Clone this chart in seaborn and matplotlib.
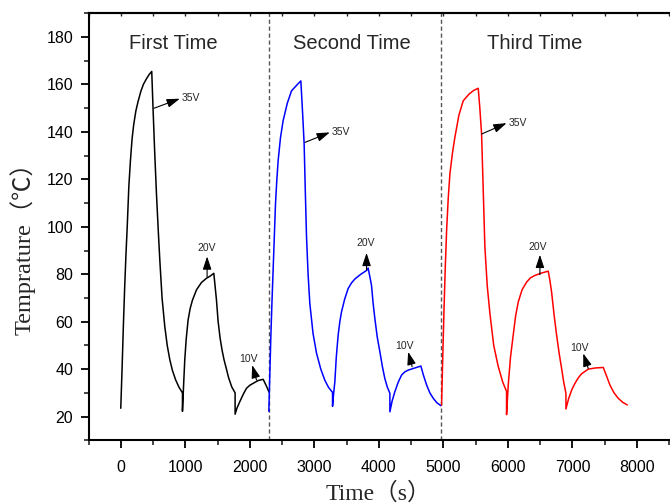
import numpy as np
import pandas as pd
import matplotlib
matplotlib.use("Agg")
import matplotlib.pyplot as plt
from matplotlib.ticker import MultipleLocator, FuncFormatter
import seaborn as sns

# Temperature vs. time for three repeated heating cycles (35 V, 20 V, 10 V each)
first_time = [0, 20, 40, 60, 80, 100, 125, 150, 175, 200, 235, 270, 310, 350, 400, 440, 480,
              500, 525, 553, 580, 605, 640, 682, 720, 760, 800, 850, 900, 956,
              956, 975, 992, 1015, 1044, 1075, 1110, 1173, 1250, 1328, 1390, 1442,
              1483, 1509, 1540, 1570, 1600, 1638, 1670, 1720, 1772,
              1772, 1800, 1845, 1900, 1948, 2000, 2051, 2130, 2207, 2255, 2300]
first_temp = [23.5, 40, 58, 74, 88, 100, 117, 128, 137, 143, 149, 153, 157, 160, 162.5, 164.2, 165.5,
              150, 132, 114, 99, 86, 70, 58, 50, 44, 39.5, 35.5, 32.5, 30,
              22.2, 34, 44, 53, 60.8, 65.5, 69, 73.4, 76.5, 78.3, 79.3, 80.4,
              69.2, 60, 53, 48, 44, 40, 36.5, 32.5, 30,
              21, 23.5, 26.3, 29.5, 31.9, 33.2, 34, 35.2, 35.7, 33, 30.2]

second_time = [2295, 2310, 2326, 2343, 2361, 2380, 2398, 2418, 2439, 2475, 2516, 2580, 2646, 2720, 2791,
               2820, 2842, 2860, 2879, 2903, 2930, 2980, 3034, 3100, 3163, 3220, 3282,
               3282, 3300, 3318, 3340, 3369, 3395, 3420, 3470, 3524, 3575, 3628, 3720, 3810, 3834,
               3860, 3886, 3910, 3938, 3975, 4016, 4055, 4093, 4130, 4171,
               4171, 4205, 4248, 4300, 4352, 4400, 4456, 4560, 4651,
               4690, 4740, 4790, 4843, 4900, 4961]
second_temp = [22.2, 38, 53.8, 68, 81.7, 96, 109.7, 119.5, 127.9, 137.5, 144.7, 152, 157.3, 159.5, 161.5,
               147, 134.9, 115, 95.7, 80, 67.7, 55, 46.7, 40, 35.3, 32.3, 30.2,
               24.3, 30, 34.7, 45, 54.3, 60, 64, 69.5, 74, 76.3, 78, 80, 81.6, 82.6,
               79, 75.3, 68, 61.3, 53.5, 47.3, 41, 36, 32.5, 29.8,
               22, 26.5, 30.5, 34.5, 37.5, 38.8, 39.6, 40.5, 41.3,
               37.5, 33.3, 30, 27.7, 25.8, 24.6]

third_time = [4972, 4990, 5008, 5028, 5050, 5075, 5101, 5140, 5178, 5240, 5307, 5400, 5470, 5540,
              5565, 5592, 5618, 5643, 5680, 5721, 5780, 5850, 5920, 5979,
              5979, 6005, 6040, 6082, 6120, 6160, 6220, 6290, 6350, 6419, 6520, 6625,
              6650, 6677, 6715, 6755, 6795, 6832, 6865, 6899,
              6899, 6940, 6990, 7039, 7090, 7140, 7245, 7360, 7478,
              7530, 7581, 7645, 7710, 7780, 7850]
third_temp = [24.9, 45, 63.6, 82, 98.5, 112, 122.3, 131, 137.7, 147, 153.1, 156, 157.5, 158.4,
              150, 139.1, 115, 91.5, 75, 63.5, 50, 41.1, 34.5, 30.6,
              20.8, 33.3, 45, 54.3, 62.5, 68.3, 73.5, 76.7, 78.5, 79.5, 80.5, 81.3,
              77.5, 72.5, 63, 54.3, 46.5, 40.3, 34.5, 29.8,
              23.2, 27.5, 31.3, 34, 36.3, 38, 40, 40.5, 40.7,
              37, 33.3, 30, 27.7, 26, 24.9]

run_names = ["First Time", "Second Time", "Third Time"]
run_colors = ["black", "#0000ff", "#ff0000"]
run_title_x = [815, 3589, 6419]
divider_x = [2295, 4970]

# Voltage labels: arrow tail (on curve), arrow head, label position
volt_text = ["35V", "20V", "10V", "35V", "20V", "10V", "35V", "20V", "10V"]
arrow_tail = [(517, 150), (1338, 78.8), (2104, 35.4),
              (2857, 135.6), (3809, 81.8), (4516, 41.0),
              (5592, 139.1), (6496, 79.8), (7245, 40.3)]
arrow_head = [(915, 154), (1338, 87.5), (2036, 41.7),
              (3240, 139.8), (3809, 89.0), (4454, 47.3),
              (5979, 143.7), (6496, 88.2), (7168, 46.6)]
label_pos = [(945, 154.5), (1333, 91.0), (1985, 44.4),
             (3270, 140.0), (3790, 93.2), (4397, 49.8),
             (6005, 143.6), (6465, 91.6), (7116, 48.8)]

df = pd.concat([
    pd.DataFrame({"time": first_time, "temp": first_temp, "run": run_names[0]}),
    pd.DataFrame({"time": second_time, "temp": second_temp, "run": run_names[1]}),
    pd.DataFrame({"time": third_time, "temp": third_temp, "run": run_names[2]}),
], ignore_index=True)

sns.set_style("ticks")
plt.rcParams["font.family"] = ["Liberation Sans", "DejaVu Sans"]

fig = plt.figure(figsize=(6.7, 5.04), dpi=100)
ax = fig.add_axes([0.1321, 0.1264, 0.886, 0.8472])

sns.lineplot(data=df, x="time", y="temp", hue="run", estimator=None, sort=False,
             palette=dict(zip(run_names, run_colors)), linewidth=1.1,
             legend=False, ax=ax)

for xv in divider_x:
    ax.axvline(xv, color="#555555", linestyle=(0, (3, 2)), linewidth=1.0, zorder=1)

for name, xv in zip(run_names, run_title_x):
    ax.text(xv, 177.2, name, ha="center", va="center", fontsize=14.5)

for txt, tail, head, pos in zip(volt_text, arrow_tail, arrow_head, label_pos):
    ax.annotate("", xy=head, xytext=tail,
                arrowprops=dict(arrowstyle="-|>,head_length=0.75,head_width=0.25",
                                mutation_scale=10.5, color="black", lw=0.8,
                                shrinkA=0, shrinkB=0))
    ha = "left" if txt == "35V" else "center"
    ax.text(pos[0], pos[1], txt, ha=ha, va="center", fontsize=7.5)

ax.set_xlim(-500, 8700)
ax.set_ylim(10, 190)
ax.xaxis.set_major_locator(MultipleLocator(1000))
ax.xaxis.set_minor_locator(MultipleLocator(500))
ax.yaxis.set_major_locator(MultipleLocator(20))
ax.yaxis.set_minor_locator(MultipleLocator(10))
ax.tick_params(axis="both", which="major", direction="out", length=6, width=1.3,
               labelsize=11.5, colors="black", pad=5)
ax.tick_params(axis="both", which="minor", direction="out", length=3.5, width=1.2)
ax.tick_params(axis="x", which="major", pad=8)
ax.xaxis.set_major_formatter(FuncFormatter(lambda v, p: f"{int(v)}" if v >= 0 else ""))

for side in ["left", "bottom", "top"]:
    ax.spines[side].set_linewidth(1.5)
    ax.spines[side].set_color("black")
ax.spines["right"].set_visible(False)
ax.spines["top"].set_visible(True)

top = ax.secondary_xaxis("top")
top.set_xticks(np.arange(-500, 8701, 500))
top.tick_params(direction="in", length=2.5, width=1.0, labeltop=False)
top.spines["top"].set_linewidth(1.5)

ax.set_xlabel("")
ax.set_ylabel("")
label_font = ["Liberation Serif", "Noto Sans CJK SC", "DejaVu Sans"]
fig.text(378 / 670, 1 - 494 / 504, "Time（s）", ha="center", va="center",
         fontsize=17, family=label_font)
fig.text(23 / 670, 1 - 243 / 504, "Temprature（℃）", ha="center", va="center",
         rotation=90, fontsize=17.5, family=label_font)

fig.savefig("out.png", dpi=100)
